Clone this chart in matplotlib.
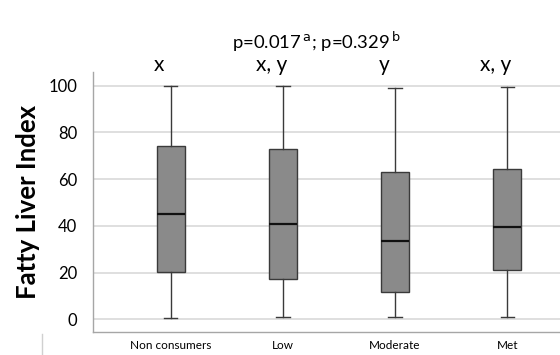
import matplotlib
matplotlib.use("Agg")
from matplotlib import pyplot as plt
from matplotlib.lines import Line2D

groups = ["Non consumers", "Low", "Moderate", "Met"]
letters = ["x", "x, y", "y", "x, y"]
whisker_low = [0.4, 0.9, 1.1, 1.0]
q1 = [20.3, 17.2, 11.7, 21.1]
medians = [45.1, 40.9, 33.6, 39.7]
q3 = [74.2, 72.8, 63.0, 64.3]
whisker_high = [100.0, 100.0, 99.0, 99.5]
yticks = [0, 20, 40, 60, 80, 100]

plt.rcParams["font.family"] = ["Lato", "DejaVu Sans"]

fig = plt.figure(figsize=(5.6, 3.55), dpi=100)
ax = fig.add_axes([0.1655, 0.0656, 0.8345, 0.731])

stats = []
for i in range(len(groups)):
    stats.append(dict(whislo=whisker_low[i], q1=q1[i], med=medians[i],
                      q3=q3[i], whishi=whisker_high[i], label=groups[i]))

pos = list(range(len(groups)))
ax.bxp(stats, positions=pos, widths=0.25, capwidths=0.12, patch_artist=True,
       showfliers=False,
       boxprops=dict(facecolor="#8a8a8a", edgecolor="#3a3a3a", linewidth=1.0),
       whiskerprops=dict(color="#3a3a3a", linewidth=1.0),
       capprops=dict(color="#3a3a3a", linewidth=1.0),
       medianprops=dict(color="#111111", linewidth=1.6))

ax.set_xlim(-0.695, 3.47)
ax.set_ylim(-5.3, 105.8)
ax.set_yticks(yticks)
ax.set_xticks(pos)
ax.set_xticklabels(groups, fontsize=8.5)
ax.tick_params(axis="y", labelsize=12, length=0, pad=11)
ax.tick_params(axis="x", length=0, pad=6)
ax.yaxis.grid(True, color="#d9d9d9", linewidth=1.2)
ax.set_axisbelow(True)
for s in ["top", "right"]:
    ax.spines[s].set_visible(False)
for s in ["left", "bottom"]:
    ax.spines[s].set_color("#a6a6a6")
    ax.spines[s].set_linewidth(1.0)

ax.set_ylabel("Fatty Liver Index", fontsize=18.5, fontweight="bold", labelpad=6)

for i, t in enumerate(letters):
    ax.text(pos[i] - 0.1, 108.8, t, ha="center", va="center", fontsize=15, clip_on=False)

fig.text(0.565, 0.882, r"p=0.017$^{\,\mathrm{a}}$; p=0.329$^{\,\mathrm{b}}$",
         ha="center", va="center", fontsize=13.3)

fig.add_artist(Line2D([0.075, 0.075], [0.0, 0.06], color="#d0d0d0", linewidth=1.0))

fig.savefig("out.png", dpi=100)
